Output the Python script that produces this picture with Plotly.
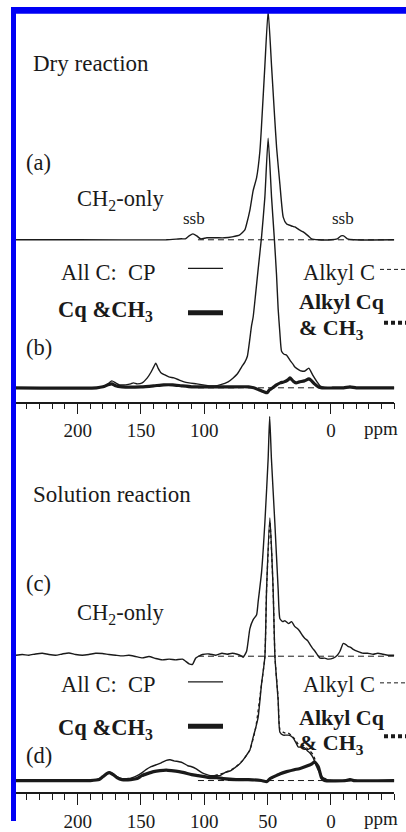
import plotly.graph_objects as go

W, H = 406, 832

# ---------------- data (ppm, intensity) ----------------
# (a) dry reaction, CH2-only
a_ppm = [250, 200, 130, 118, 115, 112, 109, 106, 103, 98, 90, 84, 78, 72, 68, 66.6, 64.0, 61.4, 58.7,
         56.1, 54.8, 52.2, 49.6, 46.9, 44.5, 42.9, 40.3, 37.7, 35.0, 31, 28.5, 25, 21.9, 18, 15.3, 10,
         0, -5, -8, -10, -13, -18, -50]
a_int = [0, 0, 0, 1, 1, 4, 6, 4, 1, 2, 2, 2, 3, 5, 10, 16, 30, 50, 63,
         90, 116, 176, 232, 176, 125, 93, 56, 23, 16, 14, 13, 10, 8, 4, 1, 0,
         0, 1, 4, 4, 1, 0, 0]

# (b) dry reaction, all C (CP)
b_cp_ppm = [250, 186, 180, 176, 173, 170, 167, 162, 158, 156, 153, 149, 145, 142, 140, 138.3, 136.5,
            134, 131, 128, 124, 120, 116, 112, 106, 101, 96, 91.7, 87.7, 81.2, 77.2, 74, 70.6, 68, 66,
            64.5, 62.7, 61.4, 59.5, 57.5, 54.8, 52.2, 49.6, 46.9, 44.8, 43, 41.7, 40.3, 39.0, 37, 35.0,
            32.4, 30, 28.5, 25, 23.2, 20.6, 17.5, 16, 14.0, 11, 8.7, 5, -10, -15, -20, -50]
b_cp_int = [0, 0, 1, 4, 7, 5, 3, 3, 4, 5, 4, 5, 10, 16, 21, 25, 20,
            15, 13, 11, 10, 8, 6, 5, 4, 3, 2, 2, 3, 6, 10, 14, 21, 26, 32,
            45, 63, 72, 95, 120, 153, 193, 253, 193, 153, 115, 80, 55, 37, 34, 33,
            28, 24, 21, 18, 17, 17, 20, 17, 12, 6, 2, 0, 0, 1, 0, 0]

# (b) dry reaction, Cq & CH3
b_cq_ppm = [250, 185, 180, 176, 173, 170, 165, 150, 140, 132, 125, 118, 110, 100, 80, 65, 61, 57, 53,
            50.5, 48.5, 46, 43, 40, 37, 34, 32.4, 30, 27.5, 25, 21, 17.5, 16, 13, 10, 7, -10, -15, -20, -50]
b_cq_int = [0, 0, 1, 3, 4, 2, 1, 1, 2, 3, 3, 2, 1, 1, 1, 1, 0, -2, -4,
            -5, -2, 0, 3, 5, 6, 8, 10, 7, 5, 6, 7, 9, 8, 4, 1, 0, 0, 1, 0, 0]

# (c) solution reaction, CH2-only
c_ppm = [249, 243.7, 238.5, 233.2, 227.9, 222.7, 217.4, 212.1, 206.9, 201.6, 196.3, 191.1, 185.8,
         180.5, 175.3, 170, 164.7, 159.5, 154.2, 148.9, 143.7, 138.3, 133, 127.8, 122.5, 117.2, 112,
         109.3, 106.7, 101.4, 96.2, 90.9, 86, 82, 78, 74, 70.5, 69.3, 66.6, 65.4, 64.0, 61.4, 58.7,
         57.5, 54.8, 52.2, 49.6, 48.4, 47.0, 44.3, 41.7, 40.3, 38, 36.4, 33.5, 31.1, 28.5, 26.5, 24.5,
         22.5, 20.6, 18.5, 16.6, 14.5, 12.6, 10.5, 8.7, 5, 2.1, -1.8, -5, -7.1, -9.7, -11.5, -13.4,
         -15.5, -17.6, -21, -25.5, -29, -33.4, -37, -41.1, -45, -50]
c_int = [1, 1.7, 1, 2.3, 3, 1.7, 1, 2.3, 3.3, 1.7, 1, 1.7, 3,
         2.7, 1.7, 1, 0.3, 1, -0.3, -1.7, -0.3, -2.3, -3.7, -3, -3.7, -3, -7.7,
         -8.3, -1.7, 1.7, 2.3, 1, 3, 2, 3, 2, 0, -1, 5, 15, 28, 37, 42,
         55, 85, 135, 200, 243, 200, 135, 68, 38, 35, 36, 33, 35, 30, 28, 25,
         21, 18, 16, 12, 8, 5, 1, -2, -2, -3, -2, 1, 5, 13, 12, 10,
         9, 7, 5, 3, 3, 2, 3, 2, 1, 1]

# (d) solution reaction, all C (CP)
d_cp_ppm = [250, 190, 185, 180, 177, 175, 172, 169, 165, 160, 156.8, 153, 151.5, 148, 146, 142, 138,
            134, 130, 127, 124, 120, 117, 113, 110, 106.7, 102, 98, 95, 91.7, 87.7, 83.8, 79, 75.9,
            72, 69.3, 66.5, 64.0, 61.4, 59.5, 57.5, 54.8, 52.2, 50.8, 48.2, 45.7, 44.2, 41.7, 40.3,
            37.7, 35.5, 33.8, 31.5, 29.8, 27.5, 25.8, 23, 20.6, 18.5, 16.6, 14.0, 11.3, 9, 7.4, 3.4,
            0, -12, -15, -18, -50]
d_cp_int = [0, 0, 1, 4, 7, 8.5, 7, 4, 2, 2, 3, 5, 6, 9, 11, 14, 16,
            18, 20.5, 21, 20, 19, 18, 15, 14, 12, 8, 6, 5, 5, 5, 8, 10, 13,
            17, 21, 26, 31, 44, 53, 64, 98, 125, 195, 266, 195, 125, 81, 49,
            46, 46, 46, 45, 43, 38, 34, 34, 33, 30, 28, 23, 14, 8, 4, 1,
            0, 0, 1.5, 0, 0]

# (d) solution reaction, alkyl C
d_alk_ppm = [92, 83.8, 75.9, 69.3, 64.0, 59.5, 54.8, 52.2, 50.8, 48.2, 45.7, 44.2, 41.7, 40.3, 37.7,
             35.5, 33.8, 31.5, 29.8, 27.5, 25.8, 23, 20.6, 18.5, 16.6, 14.0, 11.3, 9, 7.4, 3.4, 0, -50]
d_alk_int = [5, 8, 13, 21, 31, 53, 98, 125, 195, 262, 195, 125, 83, 52, 49,
             48, 48, 46, 44, 40, 37, 36, 35, 32, 30, 26, 17, 10, 5, 1, 0, 0]

# (d) solution reaction, Cq & CH3
d_cq_ppm = [250, 190, 183, 180, 177, 175, 172, 169, 165, 158, 153, 149.3, 145, 140, 135, 130, 126, 120,
            116, 110, 105, 100, 96, 90, 85, 75, 65, 55, 50.5, 48, 45, 40, 35, 29, 25, 20.6, 15, 13, 10,
            7.5, 5, -12, -15, -18, -50]
d_cq_int = [0, 0, 1, 4, 7, 8, 6, 3, 1, 1, 2, 5, 7, 9, 10, 10.5, 10, 9,
            8, 6, 5, 4, 3, 3, 2, 1, 1, 0, -1, 2, 4, 7, 9, 11, 12, 14, 17, 19, 14,
            3, 0, 0, 1, 0, 0]

# zero reference (dashed) segments
ref_ab_ppm = [105, -50]
ref_cd_ppm = [105, -50]
ref_int = [0, 0]

top_ticks = [200, 150, 100, 0]
bot_ticks = [200, 150, 100, 50, 0]

# ---------------- layout constants ----------------
INK = "#1a1a1a"
SERIF = "Liberation Serif"
A_OFF, B_OFF = 164, 14
C_OFF, D_OFF = 138, 12


def px(x):
    return x / W


def py(y):
    return 1 - y / H


def shift(vals, off):
    return [v + off for v in vals]


fig = go.Figure()


def add(xs, ys, off, axes, width=1.4, dash=None):
    fig.add_trace(go.Scatter(
        x=xs, y=shift(ys, off), mode="lines", xaxis=axes[0], yaxis=axes[1],
        line=dict(color=INK, width=width, dash=dash, shape="spline", smoothing=0.5),
        hoverinfo="skip", showlegend=False))


TOP = ("x", "y")
BOT = ("x2", "y2")
DASH = "6px,4px"
DOT = "3px,3px"

# top panel
add(ref_ab_ppm, ref_int, A_OFF, TOP, 1.0, DASH)
add(a_ppm, a_int, A_OFF, TOP, 1.4)
add(ref_ab_ppm, ref_int, B_OFF, TOP, 1.0, DASH)
add(b_cq_ppm, b_cq_int, B_OFF, TOP, 3.2)
add(b_cp_ppm, b_cp_int, B_OFF, TOP, 1.4)
# bottom panel
add(ref_cd_ppm, ref_int, C_OFF, BOT, 1.0, DASH)
add(c_ppm, c_int, C_OFF, BOT, 1.4)
add(ref_cd_ppm, ref_int, D_OFF, BOT, 1.0, DASH)
add(d_cq_ppm, d_cq_int, D_OFF, BOT, 3.2)
add(d_alk_ppm, d_alk_int, D_OFF, BOT, 1.3, DOT)
add(d_cp_ppm, d_cp_int, D_OFF, BOT, 1.4)

x_dom = [px(14.3), px(394.3)]


def xaxis(ticks, anchor):
    return dict(domain=x_dom, range=[250, -50], anchor=anchor,
                tickmode="array", tickvals=ticks, ticktext=[str(t) for t in ticks],
                ticks="outside", ticklen=11, tickwidth=1.3, tickcolor=INK,
                showline=True, linecolor=INK, linewidth=1.5,
                showgrid=False, zeroline=False,
                tickfont=dict(family=SERIF, size=19, color=INK),
                minor=dict(tickmode="linear", tick0=0, dtick=10, ticks="outside",
                           ticklen=6, tickwidth=1.2, tickcolor=INK, showgrid=False),
                fixedrange=True)


def yaxis(dom, rng):
    return dict(domain=dom, range=rng, visible=False, fixedrange=True)


ann = []


def text(t, x, y, size=22.5, bold=False, xanchor="left"):
    if bold:
        t = "<b>" + t + "</b>"
    ann.append(dict(text=t, x=px(x), y=py(y), xref="paper", yref="paper",
                    xanchor=xanchor, yanchor="middle", showarrow=False,
                    font=dict(family=SERIF, size=size, color=INK)))


# top half texts
text("Dry reaction", 31, 64, 23)
text("(a)", 24, 165)
text("CH<sub>2</sub>-only", 75, 203)
text("ssb", 194, 221, 17, xanchor="center")
text("ssb", 343, 221, 17, xanchor="center")
text("All C:  CP", 59, 276)
text("Alkyl C", 301, 276)
text("Cq &amp;CH<sub>3</sub>", 56, 315, bold=True)
text("Alkyl Cq", 297, 306, 22, bold=True)
text("&amp; CH<sub>3</sub>", 297, 333, 22, bold=True)
text("(b)", 24, 352)
text("ppm", 381, 434, 19, xanchor="center")
# bottom half texts
text("Solution reaction", 31, 501, 23)
text("(c)", 24, 591)
text("CH<sub>2</sub>-only", 75, 622)
text("All C:  CP", 59, 694)
text("Alkyl C", 301, 694)
text("Cq &amp;CH<sub>3</sub>", 56, 739, bold=True)
text("Alkyl Cq", 297, 727, 22, bold=True)
text("&amp; CH<sub>3</sub>", 297, 754, 22, bold=True)
text("(d)", 24, 766)
text("ppm", 381, 829, 19, xanchor="center")

shapes = []


def hline(x0, x1, y, width, dash=None):
    shapes.append(dict(type="line", xref="paper", yref="paper",
                       x0=px(x0), x1=px(x1), y0=py(y), y1=py(y),
                       line=dict(color=INK, width=width, dash=dash)))


for yo in (0, 419):
    hline(188, 223, 272 + yo, 1.4)
    hline(188, 223, 317 + yo, 5)
    hline(380, 406, 273 + yo, 1.0, "4px,3px")
    hline(384, 406, 327 + yo, 4, "4px,3px")

BLUE = "#0000f5"
shapes.append(dict(type="rect", xref="paper", yref="paper", x0=px(11), x1=px(16),
                   y0=py(832), y1=py(7), fillcolor=BLUE, line=dict(width=0), layer="above"))
shapes.append(dict(type="rect", xref="paper", yref="paper", x0=px(11), x1=px(406),
                   y0=py(14), y1=py(7), fillcolor=BLUE, line=dict(width=0), layer="above"))

fig.update_layout(
    width=W, height=H, margin=dict(l=0, r=0, t=0, b=0),
    paper_bgcolor="white", plot_bgcolor="rgba(0,0,0,0)",
    xaxis=xaxis(top_ticks, "y"),
    yaxis=yaxis([py(407), py(12)], [0, 395]),
    xaxis2=xaxis(bot_ticks, "y2"),
    yaxis2=yaxis([py(803), py(420)], [0, 383]),
    annotations=ann, shapes=shapes, showlegend=False,
)

fig.write_html("out.html")
